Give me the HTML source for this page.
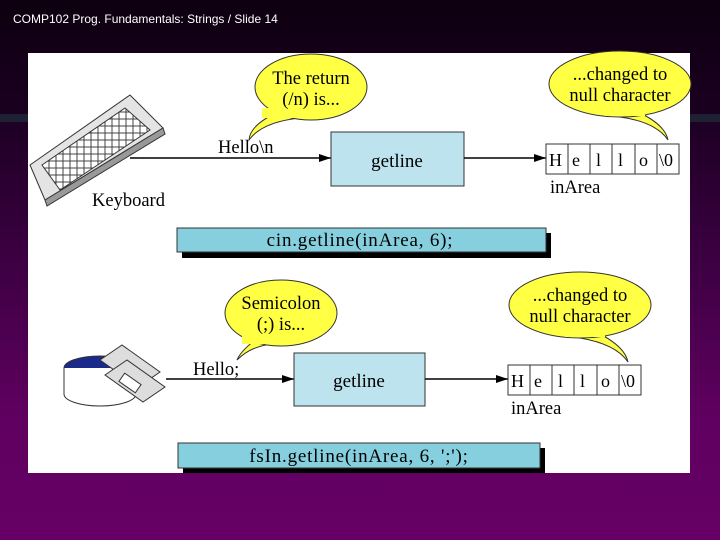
<!DOCTYPE html>
<html><head><meta charset="utf-8"><style>
html,body{margin:0;padding:0}
body{width:720px;height:540px;overflow:hidden;background:linear-gradient(#0d000f 0px,#1a0020 110px,#3a0040 250px,#600060 420px,#660066 540px);position:relative;font-family:"Liberation Serif",serif}
.t{position:absolute;left:13px;top:12px;color:#fff;font:12px "Liberation Sans",sans-serif}
svg{position:absolute;left:0;top:0}
</style></head><body>
<div class="t">COMP102 Prog. Fundamentals: Strings / Slide 14</div>
<svg width="720" height="540" viewBox="0 0 720 540" font-family="Liberation Serif, serif">
<rect x="0" y="114" width="28" height="8" fill="#1f3540" opacity=".6"/>
<rect x="690" y="114" width="30" height="8" fill="#1f3540" opacity=".6"/>
<rect x="28" y="53" width="662" height="420" fill="#fff"/>
<defs><marker id="a" markerWidth="12" markerHeight="8" refX="12" refY="4" orient="auto" markerUnits="userSpaceOnUse"><path d="M0,0L12,4L0,8z" fill="#000"/></marker>
<pattern id="k" width="7" height="7" patternUnits="userSpaceOnUse"><rect width="7" height="7" fill="#fff"/><rect x="0" y="0" width="7" height="7" fill="none" stroke="#444" stroke-width="1"/></pattern></defs>
<!-- keyboard -->
<polygon points="30,165 130,95 163,128 45,200" fill="#e4e4e4" stroke="#333"/>
<polygon points="45,200 163,128 165,134 47,206" fill="#999" stroke="#333"/>
<polygon points="42,165 125,108 150,130 60,190" fill="url(#k)" stroke="#333" transform=""/>
<text x="92" y="206" font-size="18.5">Keyboard</text>
<!-- disks -->
<ellipse cx="100" cy="368" rx="36" ry="12" fill="#1a2a8a" stroke="#333"/>
<path d="M64,368 V394 A36,12 0 0 0 136,394 V368" fill="#fff" stroke="#333"/>
<g stroke="#333" fill="#ddd">
<polygon points="100,360 122,345 160,372 138,387"/>
<polygon points="105,375 127,360 165,387 143,402"/>
<rect x="120" y="378" width="20" height="10" fill="#fff" transform="rotate(35 130 383)"/>
</g>
<!-- top row -->
<line x1="130" y1="158" x2="331" y2="158" stroke="#000" stroke-width="1.5" marker-end="url(#a)"/>
<text x="218" y="153" font-size="18.5">Hello\n</text>
<rect x="331" y="132" width="133" height="54" fill="#bde3ee" stroke="#333"/>
<text x="397" y="167" font-size="19" text-anchor="middle">getline</text>
<line x1="464" y1="158" x2="546" y2="158" stroke="#000" stroke-width="1.5" marker-end="url(#a)"/>
<g stroke="#333" fill="#fff"><rect x="546" y="144" width="133" height="30"/>
<path d="M568,144v30M590,144v30M612,144v30M635,144v30M657,144v30"/></g>
<g font-size="18"><text x="549" y="166">H</text><text x="572" y="166">e</text><text x="596" y="166">l</text><text x="618" y="166">l</text><text x="639" y="166">o</text><text x="659" y="166">\0</text></g>
<text x="550" y="193" font-size="18.5">inArea</text>
<rect x="182" y="233" width="369" height="25" fill="#000"/>
<rect x="177" y="228" width="369" height="24" fill="#86cfde" stroke="#333"/>
<text x="360" y="246" font-size="19" text-anchor="middle" letter-spacing="0.8">cin.getline(inArea, 6);</text>
<!-- bubbles -->
<g fill="#ffff44" stroke="#333">
<path d="M278,112 Q250,125 249,140 Q262,122 300,118 Z"/>
<ellipse cx="311" cy="87" rx="56" ry="33"/>
<path d="M640,113 Q665,125 668,140 Q656,122 620,117 Z"/>
<ellipse cx="620" cy="84" rx="71" ry="33"/>
<path d="M255,340 Q240,352 237,360 Q252,345 275,344 Z"/>
<ellipse cx="281" cy="313" rx="56" ry="33"/>
<path d="M600,334 Q625,347 628,362 Q616,344 580,338 Z"/>
<ellipse cx="580" cy="305" rx="71" ry="33"/>
</g>
<g fill="#ffff44"><rect x="262" y="108" width="40" height="10"/><rect x="605" y="106" width="40" height="10"/><rect x="242" y="334" width="30" height="10"/><rect x="565" y="327" width="40" height="10"/></g>
<g font-size="18.5" text-anchor="middle">
<text x="311" y="84">The return</text><text x="311" y="105">(/n) is...</text>
<text x="620" y="80">...changed to</text><text x="620" y="101">null character</text>
<text x="281" y="309">Semicolon</text><text x="281" y="330">(;) is...</text>
<text x="580" y="301">...changed to</text><text x="580" y="322">null character</text>
</g>
<!-- bottom row -->
<line x1="166" y1="379" x2="294" y2="379" stroke="#000" stroke-width="1.5" marker-end="url(#a)"/>
<text x="193" y="375" font-size="18.5">Hello;</text>
<rect x="294" y="353" width="131" height="53" fill="#bde3ee" stroke="#333"/>
<text x="359" y="387" font-size="19" text-anchor="middle">getline</text>
<line x1="425" y1="379" x2="508" y2="379" stroke="#000" stroke-width="1.5" marker-end="url(#a)"/>
<g stroke="#333" fill="#fff"><rect x="508" y="365" width="133" height="30"/>
<path d="M530,365v30M552,365v30M574,365v30M597,365v30M619,365v30"/></g>
<g font-size="18"><text x="511" y="387">H</text><text x="534" y="387">e</text><text x="558" y="387">l</text><text x="580" y="387">l</text><text x="601" y="387">o</text><text x="621" y="387">\0</text></g>
<text x="511" y="414" font-size="18.5">inArea</text>
<rect x="183" y="448" width="362" height="25" fill="#000"/>
<rect x="178" y="443" width="362" height="25" fill="#86cfde" stroke="#333"/>
<text x="359" y="462" font-size="19" text-anchor="middle" letter-spacing="0.8">fsIn.getline(inArea, 6, ';');</text>
</svg>
</body></html>
